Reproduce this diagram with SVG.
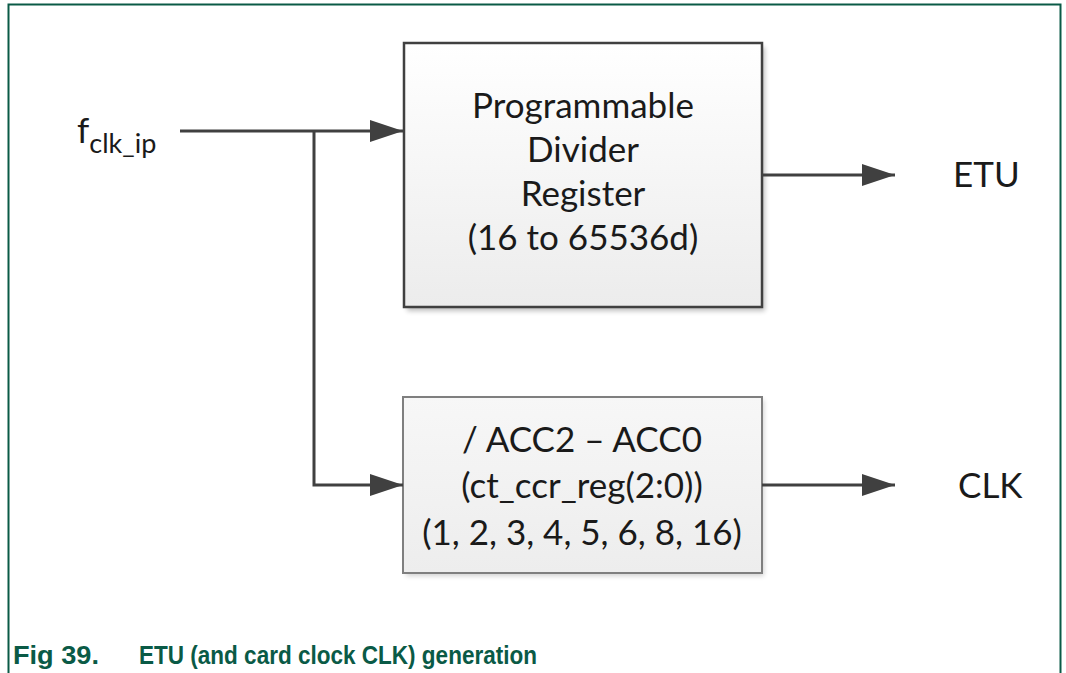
<svg xmlns="http://www.w3.org/2000/svg" width="1066" height="673" viewBox="0 0 1066 673">
<style>
.lbl{font-family:Lato,"Open Sans","Liberation Sans",sans-serif;fill:#1a1a1a;font-size:35px}
.ctr{text-anchor:middle}
.wire{stroke:#404040;stroke-width:3;fill:none}
.cap{font-family:"Liberation Sans",Arial,sans-serif;font-weight:bold;fill:#0a5a46;font-size:26.5px}
</style>
<defs>
<linearGradient id="g1" x1="0" y1="0" x2="0" y2="1">
<stop offset="0" stop-color="#ffffff"/>
<stop offset="1" stop-color="#ececec"/>
</linearGradient>
<linearGradient id="g2" x1="0" y1="0" x2="0" y2="1">
<stop offset="0" stop-color="#f7f7f7"/>
<stop offset="1" stop-color="#ededed"/>
</linearGradient>
<filter id="sh" x="-5%" y="-5%" width="115%" height="115%">
<feGaussianBlur stdDeviation="2.5"/>
</filter>
<marker id="ah" viewBox="0 0 33 22" refX="33" refY="11" markerWidth="33" markerHeight="22" markerUnits="userSpaceOnUse" orient="auto">
<path d="M0,0 L33,11 L0,22 Z" fill="#404040"/>
</marker>
</defs>
<rect x="8.5" y="4.5" width="1052" height="680" fill="none" stroke="#0a5a46" stroke-width="2"/>
<g id="divider">
<rect x="407" y="47" width="358" height="264" fill="#000" opacity="0.25" filter="url(#sh)"/>
<rect x="404" y="43" width="358" height="264" fill="url(#g1)" stroke="#404040" stroke-width="2.5"/>
<text class="lbl ctr" x="583" y="118">Programmable</text>
<text class="lbl ctr" x="583" y="162">Divider</text>
<text class="lbl ctr" x="583" y="206">Register</text>
<text class="lbl ctr" x="583" y="250">(16 to 65536d)</text>
</g>
<g id="acc">
<rect x="406" y="400" width="358" height="176" fill="#000" opacity="0.18" filter="url(#sh)"/>
<rect x="403" y="397" width="359" height="176" fill="url(#g2)" stroke="#7f7f7f" stroke-width="2"/>
<text class="lbl ctr" x="582" y="452">/ ACC2 – ACC0</text>
<text class="lbl ctr" x="582" y="498">(ct_ccr_reg(2:0))</text>
<text class="lbl ctr" x="582" y="545">(1, 2, 3, 4, 5, 6, 8, 16)</text>
</g>
<g id="fclk">
<text class="lbl" x="77" y="143" font-size="38px">f<tspan font-size="27px" dy="10">clk_ip</tspan></text>
</g>
<g id="etu">
<text class="lbl" x="953" y="187" font-size="36px">ETU</text>
</g>
<g id="clk">
<text class="lbl" x="958" y="498" font-size="36px">CLK</text>
</g>
<g id="connectors">
<line class="wire" x1="180" y1="131" x2="403" y2="131" marker-end="url(#ah)"/>
<polyline class="wire" points="314,131 314,485 403,485" marker-end="url(#ah)"/>
<line class="wire" x1="762" y1="175" x2="895" y2="175" marker-end="url(#ah)"/>
<line class="wire" x1="762" y1="485" x2="895" y2="485" marker-end="url(#ah)"/>
</g>
<g id="caption">
<text class="cap" x="13" y="664" textLength="86" lengthAdjust="spacingAndGlyphs">Fig 39.</text>
<text class="cap" x="139" y="664" textLength="398" lengthAdjust="spacingAndGlyphs">ETU (and card clock CLK) generation</text>
</g>
</svg>
